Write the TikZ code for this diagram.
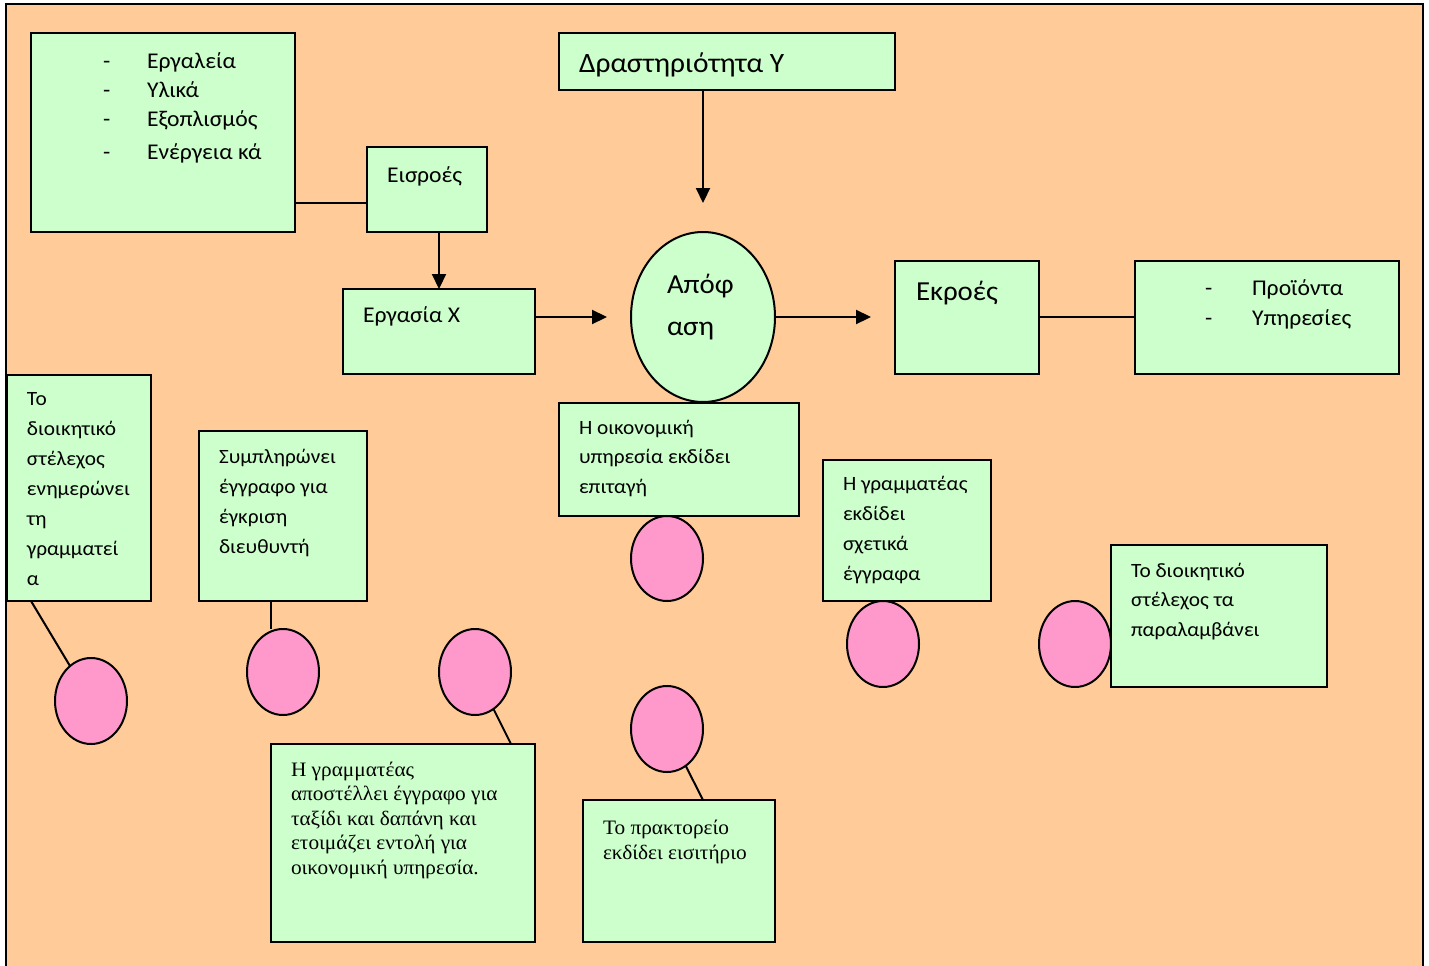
\documentclass[tikz,border=0pt]{standalone}
\usepackage{fontspec}
\setmainfont[FakeStretch=1.05]{Carlito}
\newfontfamily\tmsfont[FakeStretch=1.04]{Liberation Serif}
\usetikzlibrary{arrows.meta,shapes.geometric,calc}
\definecolor{peach}{HTML}{FFCC99}
\definecolor{mint}{HTML}{CCFFCC}
\definecolor{rose}{HTML}{FF99CC}
\begin{document}
\begin{tikzpicture}[x=1pt,y=-1pt,
  box/.style={draw, line width=2pt, fill=mint, inner sep=0pt, outer sep=0pt, anchor=north west},
  oval/.style={ellipse, draw, line width=2pt, inner sep=0pt, outer sep=0pt},
  blob/.style={oval, fill=rose, minimum width=72pt, minimum height=86pt},
  link/.style={line width=2pt},
  flow/.style={line width=2.2pt, -{Triangle[length=15pt,width=14pt]}},
  txt/.style={inner sep=0pt, outer sep=0pt, anchor=base west, text=black},
  big/.style={txt, font=\fontsize{27.5}{30}\selectfont},
  mid/.style={txt, font=\fontsize{22.5}{25}\selectfont},
  sml/.style={txt, font=\fontsize{20.3}{24}\selectfont},
  tms/.style={txt, font=\tmsfont\fontsize{20.5}{24}\selectfont}]

\useasboundingbox (0,0) rectangle (1429,966);
\clip (0,0) rectangle (1429,966);
\fill[white] (0,0) rectangle (1429,966);
\draw[line width=2pt, fill=peach] (6,4) rectangle (1423,990);

% main flow
\node[box, minimum width=264pt, minimum height=199pt] (res) at (31,33) {};
\node[box, minimum width=120pt, minimum height=85pt] (in) at (367,147) {};
\node[box, minimum width=192pt, minimum height=85pt] (wx) at (343,289) {};
\node[box, minimum width=336pt, minimum height=57pt] (acty) at (559,33) {};
\node[oval, fill=mint, minimum width=144pt, minimum height=170pt] (dec) at (703,317) {};
\node[box, minimum width=144pt, minimum height=113pt] (out) at (895,261) {};
\node[box, minimum width=264pt, minimum height=113pt] (prod) at (1135,261) {};

% process steps
\node[box, minimum width=240pt, minimum height=113pt] (fin) at (559,403) {};
\node[blob, minimum height=85pt] (p1) at (667,558.5) {};
\node[box, minimum width=144pt, minimum height=226pt] (adm) at (7,375) {};
\node[blob] (p2) at (91,701) {};
\node[box, minimum width=168pt, minimum height=170pt] (form) at (199,431) {};
\node[blob] (p3) at (283,672) {};
\node[blob] (p4) at (475,672) {};
\node[box, minimum width=264pt, minimum height=198pt] (sec) at (271,744) {};
\node[blob] (p5) at (667,729) {};
\node[box, minimum width=192pt, minimum height=142pt] (agc) at (583,800) {};
\node[box, minimum width=168pt, minimum height=141pt] (docs) at (823,460) {};
\node[blob] (p6) at (883,644) {};
\node[blob] (p7) at (1075,644) {};
\node[box, minimum width=216pt, minimum height=142pt] (recv) at (1111,545) {};

% connectors
\draw[link] ($(res.north east)+(0,170)$) -- ($(in.north west)+(0,56)$);
\draw[flow] ($(in.south west)+(72,0)$) -- ($(wx.north west)+(96,0)$);
\coordinate (yend) at ($(dec.north)+(0,-29)$);
\draw[flow] ($(acty.south west)+(144,0)$) -- (yend);
\coordinate (xend) at ($(dec.west)+(-24,0)$);
\draw[flow] ($(wx.north east)+(0,28)$) -- (xend);
\coordinate (dend) at ($(out.west |- dec.east)+(-24,0)$);
\draw[flow] (dec.east) -- (dend);
\draw[link] ($(out.north east)+(0,56)$) -- ($(prod.north west)+(0,56)$);

\draw[link] ($(adm.south west)+(24,0)$) -- (p2);
\coordinate (f0) at ($(form.south west)+(72,0)$);
\draw[link] (f0) -- (f0 |- p3.north);
\draw[link] (p4) -- ($(sec.north west)+(240,0)$);
\draw[link] (p5) -- ($(agc.north west)+(120,0)$);

% labels
\foreach \t/\b [count=\i] in {Εργαλεία/68, Υλικά/97, Εξοπλισμός/126, Ενέργεια κά/159}{
  \node[mid] (rd\i) at (103,\b) {-};
  \node[mid] (rt\i) at (147,\b) {\t};
}
\node[mid] (tin) at (387,182) {Εισροές};
\node[mid] (twx) at (363,322) {Εργασία X};
\node[big, font=\fontsize{28}{30}\selectfont] (tacty) at (579,73) {Δραστηριότητα Υ};
\node[big] (tdec1) at (667,293) {Απόφ};
\node[big] (tdec2) at (667,335) {αση};
\node[big] (tout) at (916,300) {Εκροές};
\foreach \t/\b [count=\i] in {Προϊόντα/295, Υπηρεσίες/325}{
  \node[mid] (pd\i) at (1205,\b) {-};
  \node[mid] (pt\i) at (1252,\b) {\t};
}
\foreach \t [count=\i from 0] in {Η οικονομική, υπηρεσία εκδίδει, επιταγή}
  \node[sml] (tfin\i) at (579,{434+29.7*\i}) {\t};
\foreach \t [count=\i from 0] in {Το, διοικητικό, στέλεχος, ενημερώνει, τη, γραμματεί, α}
  \node[sml] (tadm\i) at (27,{405+30*\i}) {\t};
\foreach \t [count=\i from 0] in {Συμπληρώνει, έγγραφο για, έγκριση, διευθυντή}
  \node[sml] (tform\i) at (219,{463+30*\i}) {\t};
\foreach \t [count=\i from 0] in {Η γραμματέας, εκδίδει, σχετικά, έγγραφα}
  \node[sml] (tdocs\i) at (843,{490+30*\i}) {\t};
\foreach \t [count=\i from 0] in {Το διοικητικό, στέλεχος τα, παραλαμβάνει}
  \node[sml] (trecv\i) at (1131,{577+29.5*\i}) {\t};
\foreach \t [count=\i from 0] in {Η γραμματέας, αποστέλλει έγγραφο για, ταξίδι και δαπάνη και, ετοιμάζει εντολή για, οικονομική υπηρεσία.}
  \node[tms] (tsec\i) at (291,{776+24.6*\i}) {\t};
\foreach \t [count=\i from 0] in {Το πρακτορείο, εκδίδει εισιτήριο}
  \node[tms] (tagc\i) at (603,{834.5+24.6*\i}) {\t};
\end{tikzpicture}
\end{document}
